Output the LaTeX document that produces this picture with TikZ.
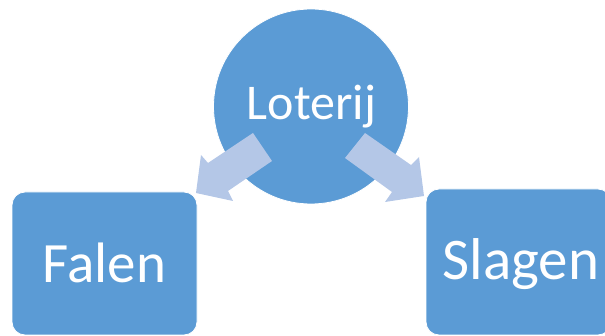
\documentclass[tikz,border=0pt]{standalone}
\usepackage{fontspec}
\setmainfont{Carlito}
\definecolor{boxblue}{HTML}{5B9BD5}
\definecolor{arrowblue}{HTML}{B4C7E7}
\begin{document}
\begin{tikzpicture}[x=1pt,y=-1pt,
  shapebox/.style={fill=boxblue, draw=white, line width=0.8pt, rounded corners=13pt, inner sep=0pt},
  blockarrow/.style={fill=arrowblue, draw=none},
  lbl/.style={text=white, inner sep=0pt, anchor=base}]
\useasboundingbox (0,0) rectangle (605,336);
% circle
\node[circle, fill=boxblue, draw=white, line width=0.8pt, minimum size=195pt, inner sep=0pt] (lot) at (311,106.5) {};
\node[lbl, font=\fontsize{50}{50}\selectfont] (lottxt) at (311.5,120) {Loterij};
% boxes
\node[shapebox, minimum width=185pt, minimum height=143pt] (fal) at (104.5,263.5) {};
\node[lbl, font=\fontsize{57}{57}\selectfont] (faltxt) at (104.5,283) {Falen};
\node[shapebox, minimum width=185pt, minimum height=146pt] (sla) at (518.5,262) {};
\node[lbl, font=\fontsize{59}{59}\selectfont] (slatxt) at (521,280) {Slagen};
% block arrows
\fill[blockarrow] (253,133) -- (208,163) -- (201,155) -- (196,193) -- (233,201) -- (228,191) -- (272,161) -- cycle;
\fill[blockarrow] (365,133) -- (411,165) -- (419,157) -- (424,196) -- (385,202) -- (392,192) -- (345,158) -- cycle;
\end{tikzpicture}
\end{document}
